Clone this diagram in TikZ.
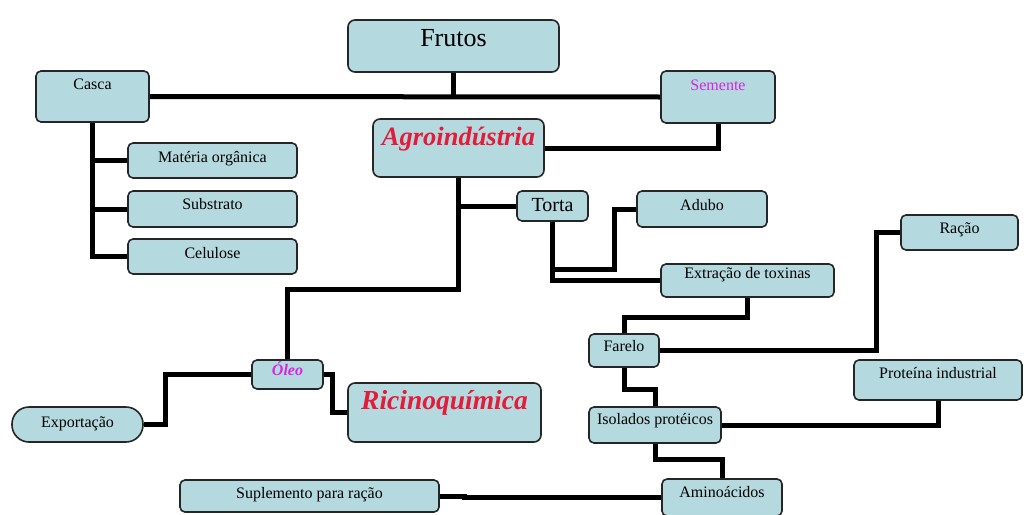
\documentclass[tikz,border=0pt]{standalone}
\usepackage{fontspec}
\setmainfont{Liberation Serif}
\usepackage{tikz}
\definecolor{boxfill}{RGB}{180,217,222}
\definecolor{boxline}{gray}{.15}
\definecolor{darkred}{RGB}{226,28,58}
\definecolor{mymagenta}{RGB}{214,38,226}
\newcommand{\smallsize}{\fontsize{16}{18}\selectfont}
\newcommand{\bigsize}{\fontsize{26.5}{30}\selectfont}
\tikzset{
    box/.style={draw=boxline, fill=boxfill, line width=1.6pt, rounded corners=5pt,
        inner xsep=2pt, inner ysep=1pt, text height=11pt, font=\smallsize},
    bigbox/.style={box, rounded corners=7pt, text height=17pt, font=\bigsize},
    title/.style={font=\bigsize\bfseries\itshape, text=darkred},
    link/.style={line width=5pt}
}

\begin{document}
\begin{tikzpicture}[x=1pt, y=-1pt]
    \useasboundingbox (0,0) rectangle (1024,514);

    \node[bigbox, font=\fontsize{26}{30}\selectfont, text height=17pt,
          minimum width=211, minimum height=52, text depth=17pt] (frutos) at (453.5,46) {Frutos};
    \node[box, minimum width=113, minimum height=51, text depth=25pt] (casca) at (92.5,96.5) {Casca};
    \node[box, text=mymagenta, minimum width=114, minimum height=52, text depth=24pt] (semente) at (718,97) {Semente};
    \node[bigbox, title, minimum width=171, minimum height=58, text depth=23pt] (agro) at (458.5,148) {Agroindústria};

    \node[box, minimum width=169, minimum height=35, text depth=7pt] (materia) at (212.5,160.5) {Matéria orgânica};
    \node[box, minimum width=169, minimum height=36, text depth=10pt] (substrato) at (212.5,209) {Substrato};
    \node[box, minimum width=169, minimum height=35, text depth=8pt] (celulose) at (212.5,256.5) {Celulose};

    \node[box, font=\fontsize{20}{22}\selectfont, text height=13pt,
          minimum width=71, minimum height=30, text depth=2pt] (torta) at (552.5,206) {Torta};
    \node[box, minimum width=130, minimum height=36, text depth=9pt] (adubo) at (702,209) {Adubo};
    \node[box, minimum width=173, minimum height=33, text depth=16pt] (extracao) at (747.5,280.5) {Extração de toxinas};
    \node[box, minimum width=117, minimum height=35, text depth=9pt] (racao) at (959.5,232.5) {Ração};

    \node[box, minimum width=70, minimum height=33, text depth=9pt] (farelo) at (624,350.5) {Farelo};
    \node[box, minimum width=132, minimum height=36, text depth=12pt] (isolados) at (655,425) {Isolados protéicos};
    \node[box, minimum width=168, minimum height=40, text depth=15pt] (proteina) at (938,380) {Proteína industrial};
    \node[box, minimum width=120, minimum height=37, text depth=11pt] (amino) at (722,497.5) {Aminoácidos};
    \node[box, minimum width=259, minimum height=32, text depth=6pt] (suplemento) at (309.5,496) {Suplemento para ração};

    \node[box, font=\smallsize\bfseries\itshape, text=mymagenta, minimum width=71, minimum height=29, text depth=9pt] (oleo) at (287.5,374.5) {Óleo};
    \node[bigbox, title, font=\fontsize{27.5}{31}\selectfont\bfseries\itshape,
          minimum width=193, minimum height=59, text depth=24pt] (ricino) at (444.5,412.5) {Ricinoquímica};
    \node[box, rounded corners=17pt, minimum width=131, minimum height=35, text depth=5pt] (exportacao) at (77.5,424.5) {Exportação};

    \draw[link] (casca.east) -- (semente.west);
    \draw[link] (frutos.south) -- (frutos.south |- casca.east);
    \draw[link] (casca.south) |- (materia.west);
    \draw[link] (casca.south) |- (substrato.west);
    \draw[link] (casca.south) |- (celulose.west);
    \draw[link] (semente.south) |- (agro.east);
    \draw[link] (agro.south) |- (torta.west);
    \draw[link] (agro.south) -- ++(0,112) -| (oleo.north);
    \draw[link] (torta.south) -- ++(0,48) -| ([xshift=-22pt]adubo.west) -- (adubo.west);
    \draw[link] (torta.south) |- (extracao.west);
    \draw[link] (extracao.south) -- ++(0,20) -| (farelo.north);
    \draw[link] (farelo.east) -| ([xshift=-24pt]racao.west) -- (racao.west);
    \draw[link] (farelo.south) -- ++(0,22) -| (isolados.north);
    \draw[link] (isolados.east) -| (proteina.south);
    \draw[link] (isolados.south) -- ++(0,16) -| (amino.north);
    \draw[link] (suplemento.east) -- ++(25,0) |- (amino.west);
    \draw[link] (oleo.west) -| ([xshift=22pt]exportacao.east) -- (exportacao.east);
    \draw[link] (oleo.east) -| ([xshift=-15pt]ricino.west) -- (ricino.west);
\end{tikzpicture}
\end{document}
